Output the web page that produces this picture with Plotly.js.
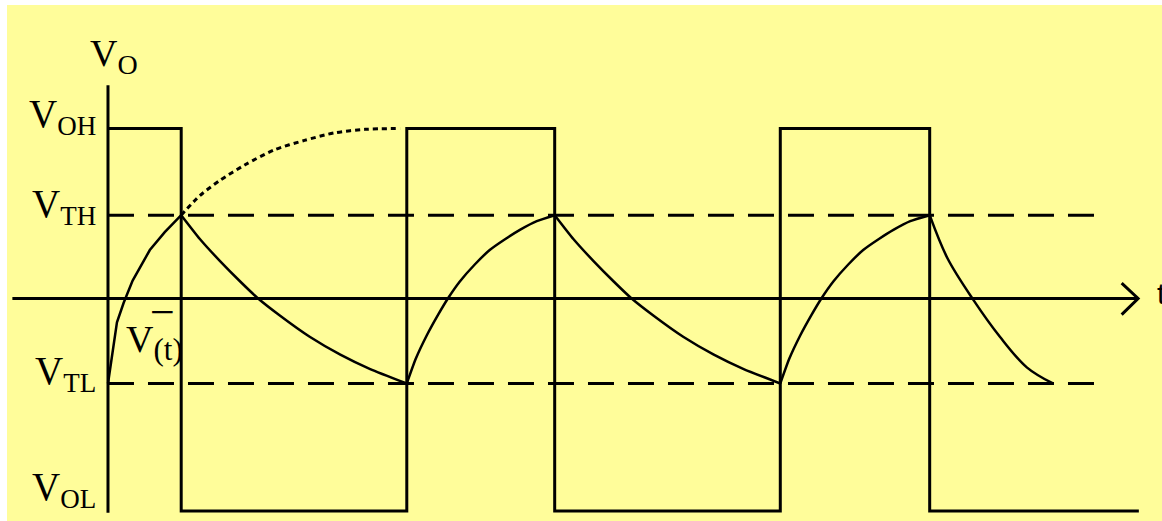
<!DOCTYPE html>
<html>
<head>
<meta charset="utf-8">
<script src="https://cdn.plot.ly/plotly-3.0.1.min.js"></script>
<style>html,body{margin:0;padding:0;background:#fff;}#chart{width:1162px;height:521px;}</style>
</head>
<body>
<div id="chart"></div>
<script>
// ---- levels (volts, schematic) ----
const VOH = 2.0;
const VTH = 0.98;
const VTL = -1.0;
const VOL = -2.5;

// ---- square wave output: switching instants and state after each switch ----
const switchTimes = [0, 0.98, 4.0, 5.98, 9.0, 11.0];
const switchStates = ['H', 'L', 'H', 'L', 'H', 'L'];
const tEnd = 13.8;

// ---- capacitor voltage v-(t) segments ----
const c1_t = [0, 0.12, 0.21, 0.33, 0.56, 0.76, 0.98];
const c1_v = [-1.0, -0.28, -0.05, 0.21, 0.57, 0.78, 0.98];

const c2_t = [0.98, 1.23, 1.50, 1.77, 2.01, 2.30, 2.70, 3.11, 3.51, 4.0];
const c2_v = [0.98, 0.70, 0.44, 0.20, 0.0, -0.20, -0.45, -0.66, -0.83, -1.0];

const c3_t = [4.0, 4.12, 4.27, 4.42, 4.55, 4.71, 4.91, 5.11, 5.32, 5.52, 5.74, 5.98];
const c3_v = [-1.0, -0.71, -0.43, -0.19, 0.0, 0.20, 0.40, 0.57, 0.70, 0.81, 0.91, 0.98];

const c4_t = [5.98, 6.23, 6.50, 6.77, 7.01, 7.30, 7.70, 8.11, 8.51, 9.0];
const c4_v = [0.98, 0.70, 0.44, 0.20, 0.0, -0.20, -0.45, -0.66, -0.83, -1.0];

const c5_t = [9.0, 9.12, 9.27, 9.42, 9.55, 9.71, 9.91, 10.11, 10.32, 10.52, 10.74, 11.0];
const c5_v = [-1.0, -0.71, -0.43, -0.19, 0.0, 0.20, 0.40, 0.57, 0.70, 0.81, 0.91, 0.98];

const c6_t = [11.0, 11.24, 11.58, 11.94, 12.30, 12.65];
const c6_v = [0.98, 0.47, -0.01, -0.45, -0.81, -1.0];

// dotted continuation of the charging curve towards VOH
const dot_t = [0.98, 1.23, 1.50, 1.83, 2.23, 2.63, 3.04, 3.44, 3.91];
const dot_v = [0.98, 1.21, 1.39, 1.57, 1.75, 1.86, 1.95, 1.99, 2.0];

// threshold dashed lines extent
const dashStart = 0;
const dashEnd = 13.23;

// axes extents
const xAxisStart = -1.28, xAxisEnd = 13.79;
const yAxisTop = 2.51, yAxisBottom = -2.52;

// labels
const levelSubs = ['OH', 'TH', 'TL', 'OL'];

// ---- build square wave ----
const sq_t = [], sq_v = [];
for (let i = 0; i < switchTimes.length; i++) {
  const lv = switchStates[i] === 'H' ? VOH : VOL;
  const tNext = i + 1 < switchTimes.length ? switchTimes[i + 1] : tEnd;
  sq_t.push(switchTimes[i], tNext);
  sq_v.push(lv, lv);
}

const black = '#000';
const traces = [];
traces.push({x: sq_t, y: sq_v, mode: 'lines', line: {color: black, width: 3, shape: 'linear'}});
traces.push({x: [dashStart, dashEnd], y: [VTH, VTH], mode: 'lines', line: {color: black, width: 3, dash: '26px,14px'}});
traces.push({x: [dashStart, dashEnd], y: [VTL, VTL], mode: 'lines', line: {color: black, width: 3, dash: '26px,14px'}});
traces.push({x: c1_t, y: c1_v, mode: 'lines', line: {color: black, width: 2.5}});
[[c2_t, c2_v], [c3_t, c3_v], [c4_t, c4_v], [c5_t, c5_v]].forEach(function (c) {
  traces.push({x: c[0], y: c[1], mode: 'lines', line: {color: black, width: 2.5, shape: 'spline', smoothing: 0.5}});
});
traces.push({x: c6_t, y: c6_v, mode: 'lines', line: {color: black, width: 2.5, shape: 'spline', smoothing: 1}});
traces.push({x: dot_t, y: dot_v, mode: 'lines', line: {color: black, width: 3, dash: '5px,4px', shape: 'spline', smoothing: 0.8}});
// axes
traces.push({x: [xAxisStart, xAxisEnd], y: [0, 0], mode: 'lines', line: {color: black, width: 3}});
traces.push({x: [13.57, xAxisEnd, 13.57], y: [0.18, 0, -0.19], mode: 'lines', line: {color: black, width: 3}});
traces.push({x: [0, 0], y: [yAxisTop, yAxisBottom], mode: 'lines', line: {color: black, width: 3}});

const serif = 'Liberation Serif, Times New Roman, serif';
function sub(main, s, subSize) {
  return main + '<sub><span style="font-size:' + subSize + 'px">' + s + '</span></sub>';
}
function ann(text, x, y, xanchor, size, fam) {
  return {text: text, x: x, y: y, xref: 'x', yref: 'y', xanchor: xanchor, yanchor: 'middle',
    showarrow: false, font: {family: fam || serif, size: size, color: black}};
}
const annotations = [
  ann(sub('V', 'O', 28), 0.08, 2.85, 'center', 38),
  ann(sub('V', levelSubs[0], 27), -0.14, 2.14, 'right', 39),
  ann(sub('V', levelSubs[1], 27), -0.14, 1.08, 'right', 39),
  ann(sub('V', levelSubs[2], 27), -0.14, -0.88, 'right', 39),
  ann(sub('V', levelSubs[3], 27), -0.14, -2.25, 'right', 39),
  ann(sub('V', '(t)', 31), 0.21, -0.52, 'left', 38),
  ann('\u2212', 0.73, -0.16, 'center', 44),
  ann('t', 14.02, 0.06, 'left', 30, 'Liberation Sans, Arial, sans-serif')
];

const layout = {
  width: 1162, height: 521,
  margin: {l: 7, r: 0, t: 5, b: 0, pad: 0},
  paper_bgcolor: '#ffffff',
  plot_bgcolor: '#FFFD9A',
  showlegend: false,
  xaxis: {range: [-1.352, 14.110], visible: false, fixedrange: true},
  yaxis: {range: [-2.618, 3.453], visible: false, fixedrange: true},
  annotations: annotations
};
Plotly.newPlot('chart', traces, layout, {displayModeBar: false, staticPlot: true});
</script>
</body>
</html>
